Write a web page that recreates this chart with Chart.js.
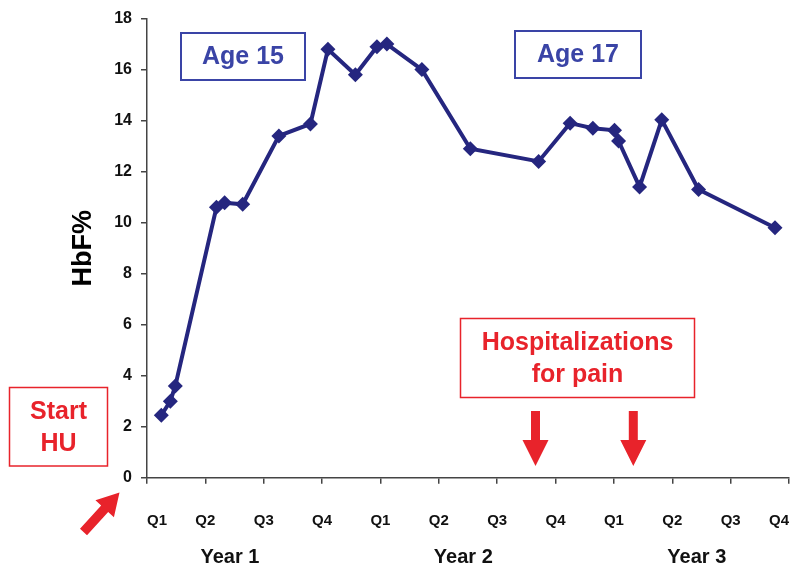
<!DOCTYPE html>
<html>
<head>
<meta charset="utf-8">
<script src="https://cdn.jsdelivr.net/npm/chart.js@4/dist/chart.umd.min.js"></script>
<style>
  html, body { margin: 0; padding: 0; background: #ffffff; }
  #wrap { width: 800px; height: 577px; position: relative; }
</style>
</head>
<body>
<div id="wrap"><canvas id="c" width="800" height="577"></canvas></div>
<script>
// ---- Data ----
// x = time in quarters since start of HU (0 = Year 1 Q1)
const timeQuarters = [0.245, 0.40, 0.485, 1.19, 1.33, 1.64, 2.26, 2.80, 3.10, 3.57, 3.94, 4.11,
                      4.71, 5.54, 6.71, 7.25, 7.64, 8.01, 8.08, 8.44, 8.82, 9.45, 10.76];
const hbfPercent   = [2.45, 3.0, 3.6, 10.6, 10.78, 10.72, 13.4, 13.87, 16.8, 15.8, 16.9, 17.0,
                      16.0, 12.9, 12.4, 13.9, 13.7, 13.62, 13.2, 11.4, 14.03, 11.3, 9.8];
const quarterLabels = ['Q1', 'Q2', 'Q3', 'Q4'];
const yearLabels = ['Year 1', 'Year 2', 'Year 3'];
const yTicks = [0, 2, 4, 6, 8, 10, 12, 14, 16, 18];

const NAVY = '#25267f';
const BLUE = '#3a44a6';
const RED = '#e8232b';
const FONT = '"Liberation Sans", Arial, Helvetica, sans-serif';

function drawArrow(ctx, x1, y1, x2, y2, shaftW, headW, headL) {
  const dx = x2 - x1, dy = y2 - y1;
  const len = Math.sqrt(dx * dx + dy * dy);
  const ux = dx / len, uy = dy / len;
  const px = -uy, py = ux;
  const bx = x2 - ux * headL, by = y2 - uy * headL;
  ctx.beginPath();
  ctx.moveTo(x1 + px * shaftW / 2, y1 + py * shaftW / 2);
  ctx.lineTo(bx + px * shaftW / 2, by + py * shaftW / 2);
  ctx.lineTo(bx + px * headW / 2, by + py * headW / 2);
  ctx.lineTo(x2, y2);
  ctx.lineTo(bx - px * headW / 2, by - py * headW / 2);
  ctx.lineTo(bx - px * shaftW / 2, by - py * shaftW / 2);
  ctx.lineTo(x1 - px * shaftW / 2, y1 - py * shaftW / 2);
  ctx.closePath();
  ctx.fill();
}

function drawBox(ctx, x0, y0, x1, y1, lines, lineYs, color, font, lw) {
  ctx.save();
  ctx.strokeStyle = color;
  ctx.lineWidth = lw;
  ctx.strokeRect(x0, y0, x1 - x0, y1 - y0);
  ctx.fillStyle = color;
  ctx.font = font;
  ctx.textAlign = 'center';
  ctx.textBaseline = 'middle';
  const cx = (x0 + x1) / 2;
  lines.forEach((t, i) => ctx.fillText(t, cx, lineYs[i]));
  ctx.restore();
}

const annotations = {
  id: 'annotations',
  afterDraw(chart) {
    const ctx = chart.ctx;
    const xs = chart.scales.x;
    // Year labels under the quarter ticks
    ctx.save();
    ctx.fillStyle = '#111111';
    ctx.font = 'bold 20px ' + FONT;
    ctx.textAlign = 'center';
    ctx.textBaseline = 'middle';
    yearLabels.forEach((t, i) => {
      ctx.fillText(t, xs.getPixelForValue(1.42 + 4 * i), 557);
    });
    ctx.restore();

    // Age boxes
    drawBox(ctx, 181, 33, 305, 80, ['Age 15'], [57], BLUE, 'bold 25px ' + FONT, 2);
    drawBox(ctx, 515, 31, 641, 78, ['Age 17'], [55], BLUE, 'bold 25px ' + FONT, 2);
    // Red boxes
    drawBox(ctx, 9.5, 387.5, 107.5, 466, ['Start', 'HU'], [412, 444], RED, 'bold 25px ' + FONT, 1.5);
    drawBox(ctx, 460.5, 318.5, 694.5, 397.5, ['Hospitalizations', 'for pain'], [343.5, 375], RED, 'bold 25px ' + FONT, 1.5);

    // Arrows
    ctx.save();
    ctx.fillStyle = RED;
    drawArrow(ctx, 535.5, 411, 535.5, 466, 9, 26, 26);
    drawArrow(ctx, 633.3, 411, 633.3, 466, 9, 26, 26);
    drawArrow(ctx, 83.5, 532, 119.5, 492.5, 9.5, 25, 22);
    ctx.restore();
  }
};

const points = timeQuarters.map((x, i) => ({ x: x, y: hbfPercent[i] }));

new Chart(document.getElementById('c'), {
  type: 'scatter',
  data: {
    datasets: [{
      label: 'HbF%',
      data: points,
      showLine: true,
      borderColor: NAVY,
      backgroundColor: NAVY,
      borderWidth: 4,
      tension: 0,
      pointStyle: 'rectRot',
      pointRadius: 7.5,
      pointBorderWidth: 0,
      pointBackgroundColor: NAVY,
      clip: false
    }]
  },
  options: {
    responsive: false,
    animation: false,
    devicePixelRatio: 1,
    layout: { padding: { top: 17, right: 11, bottom: 0, left: 0 } },
    plugins: {
      legend: { display: false },
      tooltip: { enabled: false }
    },
    scales: {
      x: {
        type: 'linear',
        min: 0,
        max: 11,
        afterFit: s => { s.height = 99.3; s.paddingLeft = 0; s.paddingRight = 0; },
        afterBuildTicks: s => { s.ticks = Array.from({ length: 12 }, (_, i) => ({ value: i })); },
        ticks: {
          stepSize: 1,
          align: 'inner',
          maxRotation: 0,
          autoSkip: false,
          padding: 28,
          color: '#111111',
          font: { family: FONT, size: 15, weight: 'bold' },
          callback: v => quarterLabels[Math.round(v) % 4]
        },
        grid: { drawOnChartArea: false, drawTicks: true, tickLength: 6, color: '#444444', lineWidth: 1.5 },
        border: { display: true, color: '#444444', width: 1.5 }
      },
      y: {
        min: 0,
        max: 18,
        afterFit: s => { s.width = 147; },
        afterBuildTicks: s => { s.ticks = yTicks.map(v => ({ value: v })); },
        ticks: {
          stepSize: 2,
          padding: 9,
          color: '#111111',
          font: { family: FONT, size: 16, weight: 'bold' }
        },
        title: {
          display: true,
          text: 'HbF%',
          color: '#000000',
          padding: { top: 67, bottom: 0 },
          font: { family: FONT, size: 27, weight: 'bold' }
        },
        grid: { drawOnChartArea: false, drawTicks: true, tickLength: 6, color: '#444444', lineWidth: 1.5 },
        border: { display: true, color: '#444444', width: 1.5 }
      }
    }
  },
  plugins: [annotations]
});
</script>
</body>
</html>
